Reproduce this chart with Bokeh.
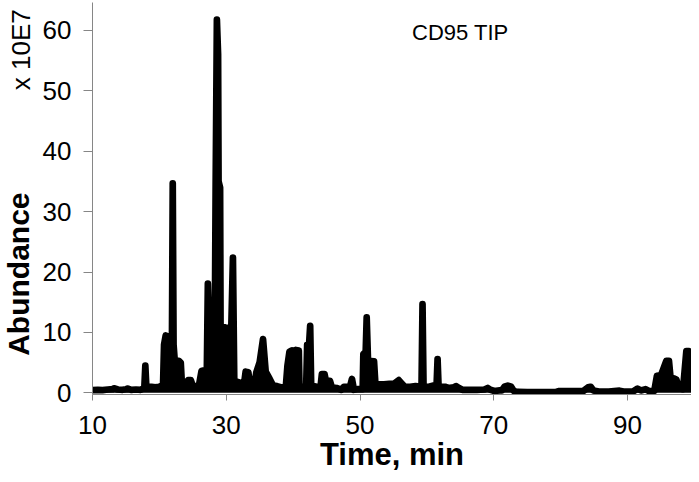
import math
from bokeh.plotting import figure
from bokeh.layouts import row
from bokeh.models import Label, FixedTicker, Range1d
from bokeh.core.properties import value
from bokeh.embed import file_html
from bokeh.resources import INLINE

# Retention time (min) and abundance (x 10E7)
time_min = [
    10.0, 10.8, 11.5, 12.3, 13.0, 13.2, 13.8, 14.5, 15.0, 15.3, 15.8, 16.5, 17.2, 17.75,
    17.9, 18.05, 18.8, 19.4, 20.0, 20.55, 20.7, 20.95, 21.3, 21.6, 21.88, 22.0, 22.12, 22.3,
    22.9, 23.2, 23.35, 23.9, 24.3, 24.7, 25.0, 25.9, 26.3, 26.9, 27.1, 27.25, 27.4, 28.3,
    28.42, 28.6, 28.78, 28.85, 29.08, 29.15, 29.9, 30.75, 31.0, 31.2, 31.7, 32.3, 32.7, 32.9,
    33.3, 33.5, 34.0, 34.3, 34.5, 35.0, 35.5, 35.9, 36.5, 37.0, 37.6, 38.3, 38.9, 39.15,
    39.45, 39.8, 40.1, 40.4, 40.85, 40.95, 41.95, 42.1, 42.4, 42.55, 42.7, 43.5, 43.9, 44.1,
    44.3, 44.7, 44.9, 45.5, 45.8, 46.5, 47.2, 47.6, 48.2, 48.5, 48.8, 49.1, 49.6, 50.4,
    50.5, 50.85, 51.0, 51.2, 52.1, 52.3, 53.0, 53.6, 54.4, 55.1, 55.8, 56.2, 56.7, 57.5,
    58.3, 59.2, 59.35, 59.5, 60.3, 61.0, 61.45, 61.6, 61.75, 62.7, 63.2, 64.0, 64.4, 64.8,
    65.3, 66.5, 67.5, 68.6, 69.1, 69.5, 70.1, 70.9, 71.2, 71.6, 72.1, 72.6, 73.0, 73.6,
    75.0, 77.0, 79.2, 79.8, 80.7, 82.2, 83.4, 84.1, 84.5, 84.9, 85.7, 87.2, 88.8, 89.4,
    90.8, 91.5, 92.0, 92.7, 93.2, 94.0, 94.4, 95.0, 95.8, 96.2, 96.45, 96.9, 97.3, 97.7,
    98.3, 98.8, 99.2, 99.5,
]
abundance = [
    0.45, 0.5, 0.45, 0.55, 0.6, 0.75, 0.55, 0.5, 0.6, 0.7, 0.5, 0.55, 0.5, 0.8,
    4.5, 1.0, 1.0, 0.9, 1.0, 1.3, 8.0, 9.5, 9.2, 8.8, 8.5, 34.7, 8.0, 5.3,
    5.3, 5.0, 1.8, 1.6, 2.1, 2.1, 1.1, 1.1, 3.6, 3.8, 4.0, 18.1, 12.5, 13.0,
    35.0, 61.8, 56.0, 35.0, 34.0, 11.0, 10.8, 10.6, 22.4, 2.0, 1.8, 1.6, 1.8, 3.5,
    3.4, 1.8, 1.8, 2.0, 3.4, 5.1, 8.9, 3.5, 2.3, 1.2, 1.1, 0.9, 0.9, 4.5,
    6.8, 7.0, 6.6, 7.1, 7.0, 1.0, 1.0, 8.0, 8.3, 11.1, 1.2, 1.0, 1.0, 1.0,
    3.1, 3.1, 2.0, 2.0, 0.9, 0.8, 0.5, 1.0, 1.0, 1.0, 2.3, 0.5, 0.6, 0.6,
    6.4, 6.8, 12.5, 5.3, 5.2, 1.5, 1.4, 1.4, 1.5, 1.5, 2.1, 1.6, 1.0, 1.0,
    1.1, 1.0, 14.7, 1.0, 1.0, 1.2, 1.2, 5.6, 1.0, 1.0, 0.8, 0.9, 1.1, 0.8,
    0.5, 0.5, 0.5, 0.55, 0.8, 0.5, 0.3, 0.4, 0.4, 1.0, 1.2, 1.0, 0.3, 0.15,
    0.1, 0.1, 0.1, 0.3, 0.3, 0.3, 0.3, 0.9, 1.0, 0.4, 0.2, 0.2, 0.35, 0.2,
    0.2, 0.7, 0.4, 0.6, 0.3, 0.3, 2.8, 2.9, 5.3, 5.3, 2.3, 2.4, 2.2, 0.8,
    0.6, 6.9, 6.9, 6.5,
]

x_ticks = [10, 30, 50, 70, 90]
y_ticks = [0, 10, 20, 30, 40, 50, 60]
y_title = "Abundance"
y_scale_note = "x 10E7"
x_title = "Time, min"
chart_title = "CD95 TIP"

FONT = "Liberation Sans"
AXIS_GREY = "#868686"
HEIGHT = 474
TOP = 2
BOTTOM = 78

y_range = Range1d(-0.28, 64.63)

# narrow strip on the left that carries the vertical titles
side = figure(
    width=38, height=HEIGHT, x_range=Range1d(0, 38), y_range=y_range,
    output_backend="svg", toolbar_location=None,
    x_axis_location=None, y_axis_location=None,
    min_border_left=0, min_border_right=0, min_border_top=TOP, min_border_bottom=BOTTOM,
)
side.outline_line_color = None
side.grid.grid_line_color = None
side.text(x=[18.0], y=[19.65], text=[y_title], angle=math.pi / 2,
          text_align="center", text_baseline="middle",
          text_font=value(FONT), text_font_style="bold", text_font_size="30px",
          text_color="black")
side.text(x=[20.0], y=[56.8], text=[y_scale_note], angle=math.pi / 2,
          text_align="center", text_baseline="middle",
          text_font=value(FONT), text_font_size="26px", text_color="black")

p = figure(
    width=653, height=HEIGHT,
    x_range=Range1d(10, 99.57), y_range=y_range,
    output_backend="svg", toolbar_location=None,
    min_border_left=54, min_border_right=0, min_border_top=TOP, min_border_bottom=BOTTOM,
)
p.outline_line_color = None
p.grid.grid_line_color = None

p.varea(x=time_min, y1=0, y2=abundance, fill_color="black")
p.line(time_min, abundance, line_color="black", line_width=6.7,
       line_join="round", line_cap="round")

for ax in (p.xaxis[0], p.yaxis[0]):
    ax.axis_line_color = AXIS_GREY
    ax.major_tick_line_color = AXIS_GREY
    ax.major_tick_in = 0
    ax.minor_tick_line_color = None
    ax.major_label_text_font = FONT
    ax.major_label_text_font_size = "26px"
    ax.major_label_text_color = "black"

p.xaxis.ticker = FixedTicker(ticks=x_ticks)
p.yaxis.ticker = FixedTicker(ticks=y_ticks)
p.xaxis.major_tick_out = 6
p.yaxis.major_tick_out = 9
p.xaxis.major_label_standoff = 15
p.yaxis.major_label_standoff = 12

p.xaxis.axis_label = x_title
p.xaxis.axis_label_text_font = FONT
p.xaxis.axis_label_text_font_style = "bold"
p.xaxis.axis_label_text_font_size = "31px"
p.xaxis.axis_label_text_color = "black"
p.xaxis.axis_label_standoff = 0

p.add_layout(Label(x=65.0, y=59.7, text=chart_title,
                   text_align="center", text_baseline="middle",
                   text_font=FONT, text_font_size="22px", text_color="black"))

layout = row(side, p)
open("out.html", "w").write(file_html(layout, INLINE))
